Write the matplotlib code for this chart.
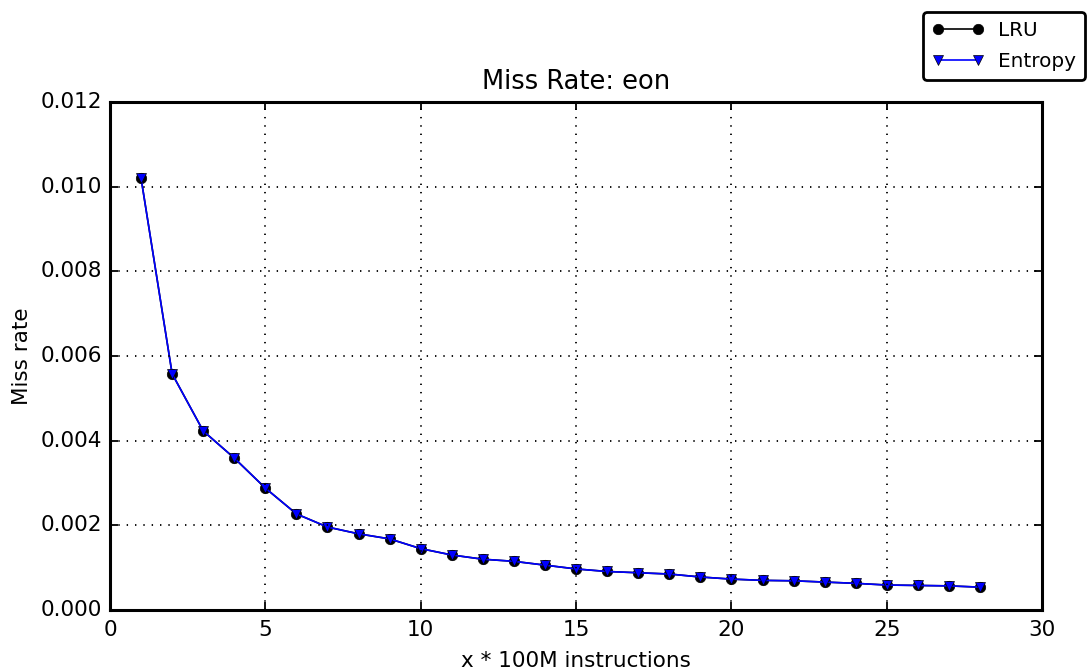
import matplotlib
matplotlib.use('Agg')
import matplotlib.pyplot as plt

plt.style.use('classic')

steps = list(range(1, 29))
lru = [0.01020, 0.00558, 0.00423, 0.00359, 0.00288, 0.00227, 0.00196, 0.00180,
       0.00168, 0.00145, 0.00130, 0.00120, 0.00115, 0.00106, 0.00097, 0.00091,
       0.00088, 0.00085, 0.00078, 0.00073, 0.00070, 0.00069, 0.00066, 0.00063,
       0.00059, 0.00058, 0.00057, 0.00054]
entropy = [0.01020, 0.00558, 0.00423, 0.00359, 0.00288, 0.00227, 0.00196, 0.00180,
           0.00168, 0.00145, 0.00130, 0.00120, 0.00115, 0.00106, 0.00097, 0.00091,
           0.00088, 0.00085, 0.00078, 0.00073, 0.00070, 0.00069, 0.00066, 0.00063,
           0.00059, 0.00058, 0.00057, 0.00054]

fig = plt.figure(figsize=(10.89, 6.71), dpi=100)
ax = fig.add_axes([0.101, 0.0909, 0.856, 0.757])

ax.plot(steps, lru, 'ko-', label='LRU', ms=7.5, lw=1.2)
ax.plot(steps, entropy, 'bv-', label='Entropy', ms=7.5, lw=1.2, mec='k')

ax.set_xlim(0, 30)
ax.set_ylim(0, 0.012)
ax.set_yticks([0, 0.002, 0.004, 0.006, 0.008, 0.010, 0.012])
ax.set_yticklabels(['0.000', '0.002', '0.004', '0.006', '0.008', '0.010', '0.012'])
ax.grid(True, linestyle=(0, (1, 5)), linewidth=1.3, color='k')
ax.tick_params(labelsize=15.5, length=6, width=1.3)
ax.tick_params(axis='x', pad=7)
ax.tick_params(axis='y', pad=6)
for sp in ax.spines.values():
    sp.set_linewidth(2.2)
ax.set_title('Miss Rate: eon', fontsize=18.5, y=1.012)
ax.set_xlabel('x * 100M instructions', fontsize=15.5, labelpad=8)
ax.set_ylabel('Miss rate', fontsize=15.5, labelpad=6)

leg = fig.legend(loc='upper right', bbox_to_anchor=(0.9963, 0.9821), borderaxespad=0,
                 fancybox=True, fontsize=14.4, handlelength=2.6, labelspacing=0.6,
                 borderpad=0.45, handletextpad=0.7)
leg.get_frame().set_linewidth(2.0)

fig.savefig('out.png', dpi=100)
